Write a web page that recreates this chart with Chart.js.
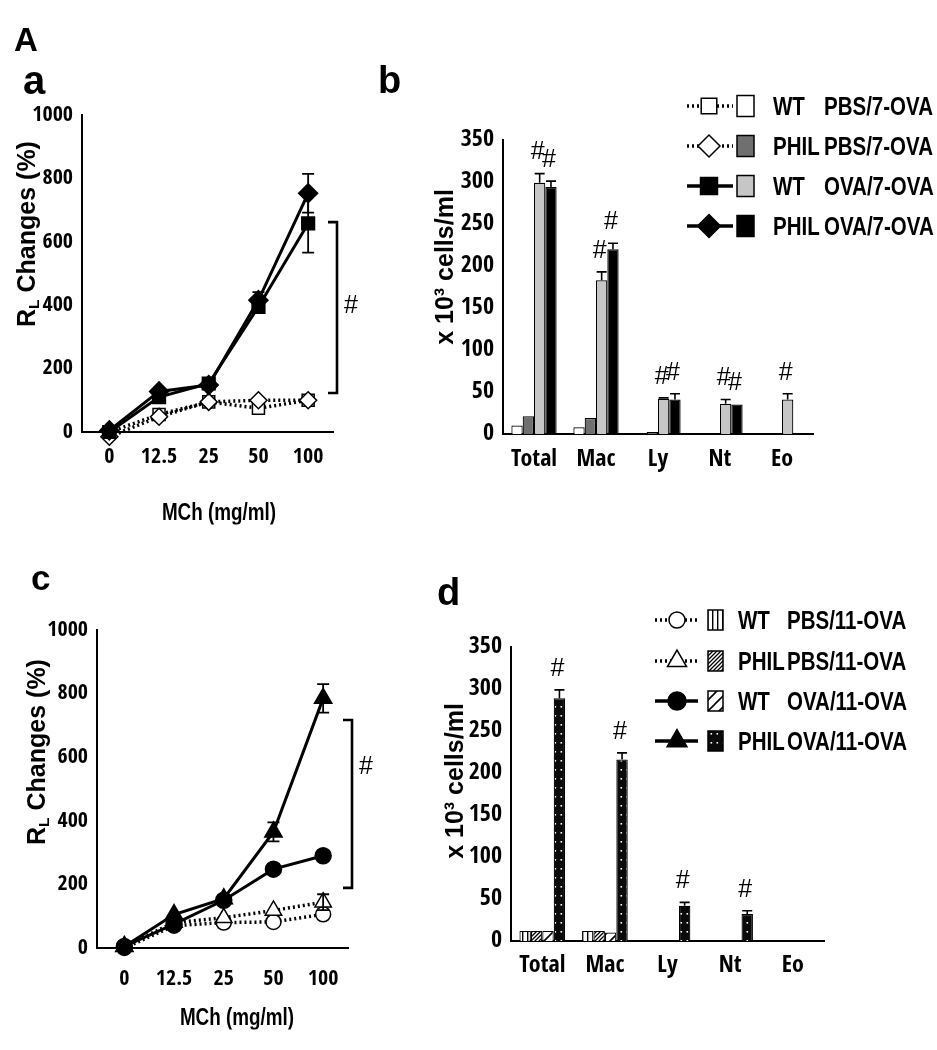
<!DOCTYPE html>
<html><head><meta charset="utf-8">
<script src="https://cdn.jsdelivr.net/npm/chart.js@4.4.1/dist/chart.umd.min.js"></script>
<style>
html,body{margin:0;padding:0;background:#fff;}
#wrap{position:relative;width:937px;height:1050px;overflow:hidden;background:#fff;}
canvas{position:absolute;left:0;top:0;}
.h{position:absolute;font-family:'Liberation Sans',Arial,sans-serif;font-weight:bold;color:#000;white-space:nowrap;line-height:1;transform-origin:0 0;transform:scaleX(0.82);}
.p{position:absolute;font-family:'Liberation Sans',Arial,sans-serif;font-weight:bold;color:#000;line-height:1;white-space:nowrap;}
.rot{transform:translate(-50%,-50%) rotate(-90deg);}
.ctr{transform-origin:50% 50%;transform:translate(-50%,-50%) scaleX(0.82);}
sub{font-size:62%;vertical-align:-0.28em;line-height:0;}
</style></head>
<body><div id="wrap">
<canvas id="ca" width="937" height="1050"></canvas>
<canvas id="cb" width="937" height="1050"></canvas>
<canvas id="cc" width="937" height="1050"></canvas>
<canvas id="cd" width="937" height="1050"></canvas>
<div id="txt"></div>
</div>
<script>
// ---------- DATA ----------
const doseLabels = ['0', '12.5', '25', '50', '100'];
// panel a (RL changes %, 7-OVA)
const aWtPbs = [0, 55, 95, 75, 100];
const aPhilPbs = [-15, 48, 95, 100, 100];
const aWtOva = [0, 110, 153, 395, 658];
const aWtOvaErr = [0, 0, 0, 20, 92];
const aPhilOva = [5, 128, 148, 416, 753];
const aPhilOvaErr = [0, 0, 0, 25, 61];
const aBracket = [123, 662];
const aMark = 397;
// panel c (RL changes %, 11-OVA)
const cWtPbs = [0, 70, 80, 82, 106];
const cPhilPbs = [5, 80, 95, 118, 144];
const cPhilPbsErr = [0, 0, 0, 0, 25];
const cWtOva = [5, 75, 150, 248, 290];
const cWtOvaErr = [0, 0, 0, 10, 15];
const cPhilOva = [5, 105, 155, 365, 785];
const cPhilOvaErr = [0, 0, 0, 30, 45];
const cBracket = [189, 717];
const cMark = 569;
// panel b (x10^3 cells/ml, 7-OVA)
const cellLabels = ['Total', 'Mac', 'Ly', 'Nt', 'Eo'];
const bWtPbs = [10, 8, 0, 0, 0];
const bPhilPbs = [21, 19, 2.5, 0, 0];
const bWtOva = [299, 183, 42, 36, 41];
const bWtOvaErr = [11, 10, 1, 5, 7];
const bWtOvaSig = [1, 1, 1, 1, 1];
const bPhilOva = [294, 220, 41, 35, 0];
const bPhilOvaErr = [7, 7, 7, 0, 0];
const bPhilOvaSig = [1, 1, 1, 1, 0];
// panel d (x10^3 cells/ml, 11-OVA)
const dWtPbs = [12, 12, 0, 0, 0];
const dPhilPbs = [12, 12, 0, 0, 0];
const dWtOva = [12, 10, 0, 0, 0];
const dPhilOva = [289, 216, 42, 32, 0];
const dPhilOvaErr = [10, 8, 4, 4, 0];
const dPhilOvaSig = [1, 1, 1, 1, 0];
// legends
const legendGroups = ['WT', 'PHIL', 'WT', 'PHIL'];
const legendB = ['PBS/7-OVA', 'PBS/7-OVA', 'OVA/7-OVA', 'OVA/7-OVA'];
const legendD = ['PBS/11-OVA', 'PBS/11-OVA', 'OVA/11-OVA', 'OVA/11-OVA'];

// ---------- STYLE ----------
const NARROW = "'Open Sans Condensed','Roboto Condensed','Liberation Sans',Arial,sans-serif";
Chart.defaults.font.family = NARROW;
Chart.defaults.font.weight = 'bold';
Chart.defaults.color = '#000';
Chart.defaults.animation = false;

const markA = [
  {ps: 'rect', r: 8.5, fill: '#fff', dot: true, lr: 11},
  {ps: 'rectRot', r: 8.5, fill: '#fff', dot: true, lr: 11},
  {ps: 'rect', r: 9, fill: '#000', dot: false, lr: 12},
  {ps: 'rectRot', r: 9.5, fill: '#000', dot: false, lr: 11.5}
];
const markC = [
  {ps: 'circle', r: 7.5, fill: '#fff', dot: true, lr: 8},
  {ps: 'triangle', r: 9.5, fill: '#fff', dot: true, lr: 11},
  {ps: 'circle', r: 8, fill: '#000', dot: false, lr: 9},
  {ps: 'triangle', r: 10, fill: '#000', dot: false, lr: 11.5}
];

const patCtx = document.getElementById('cd').getContext('2d');
function makePattern(kind) {
  const c = document.createElement('canvas');
  const g = c.getContext('2d');
  if (kind === 'vstripe') {
    c.width = 5; c.height = 5;
    g.fillStyle = '#fff'; g.fillRect(0, 0, 5, 5);
    g.fillStyle = '#000'; g.fillRect(2, 0, 1.4, 5);
  } else if (kind === 'hatch' || kind === 'diag') {
    const n = kind === 'hatch' ? 4 : 11;
    c.width = n; c.height = n;
    g.fillStyle = '#fff'; g.fillRect(0, 0, n, n);
    g.strokeStyle = '#000'; g.lineWidth = kind === 'hatch' ? 1.3 : 1.6;
    g.beginPath();
    g.moveTo(0, n); g.lineTo(n, 0);
    g.moveTo(-n, n); g.lineTo(n, -n);
    g.moveTo(0, 2 * n); g.lineTo(2 * n, 0);
    g.stroke();
  } else {
    c.width = 6; c.height = 9;
    g.fillStyle = '#0a0a0a'; g.fillRect(0, 0, 6, 9);
    g.fillStyle = '#fff'; g.fillRect(2.5, 4, 1.6, 1.6);
  }
  return patCtx.createPattern(c, 'repeat');
}
const fillsB = ['#ffffff', '#6f6f6f', '#c6c6c6', '#000000'];
const fillsD = [makePattern('vstripe'), makePattern('hatch'), makePattern('diag'), makePattern('dots')];

// ---------- PLUGINS ----------
function valOf(v) { return (v && typeof v === 'object') ? v.y : v; }
const errPlugin = {
  id: 'errbars',
  afterDatasetsDraw(chart) {
    const ctx = chart.ctx, ys = chart.scales.y;
    const isBar = chart.config.type === 'bar';
    ctx.save();
    ctx.strokeStyle = '#000'; ctx.fillStyle = '#000';
    chart.data.datasets.forEach((ds, di) => {
      const meta = chart.getDatasetMeta(di);
      meta.data.forEach((el, i) => {
        const v = valOf(ds.data[i]);
        const e = ds.errors ? ds.errors[i] : 0;
        let topY = ys.getPixelForValue(v + (e || 0));
        if (e) {
          const bot = isBar ? el.y : ys.getPixelForValue(v - e);
          const cw = isBar ? 10 : 12;
          ctx.lineWidth = isBar ? 1.6 : 1.8;
          ctx.beginPath();
          ctx.moveTo(el.x, bot); ctx.lineTo(el.x, topY);
          ctx.moveTo(el.x - cw / 2, topY); ctx.lineTo(el.x + cw / 2, topY);
          if (!isBar) { ctx.moveTo(el.x - cw / 2, bot); ctx.lineTo(el.x + cw / 2, bot); }
          ctx.stroke();
        }
        if (ds.sig && ds.sig[i]) {
          ctx.font = 'normal 25px "Liberation Sans", Arial, sans-serif';
          ctx.textAlign = 'center'; ctx.textBaseline = 'middle';
          ctx.fillText('#', el.x - 2, topY - 21);
        }
      });
    });
    ctx.restore();
  }
};
const bracketPlugin = {
  id: 'bracket',
  afterDraw(chart, args, o) {
    if (!o || o.low == null) return;
    const ctx = chart.ctx, ys = chart.scales.y;
    const x = chart.chartArea.right + o.dx;
    const y1 = ys.getPixelForValue(o.low), y2 = ys.getPixelForValue(o.high);
    ctx.save();
    ctx.strokeStyle = '#000'; ctx.lineWidth = 2.6;
    ctx.beginPath();
    ctx.moveTo(x - o.tick, y2); ctx.lineTo(x, y2); ctx.lineTo(x, y1); ctx.lineTo(x - o.tick, y1);
    ctx.stroke();
    ctx.fillStyle = '#000';
    ctx.font = 'normal 25px "Liberation Sans", Arial, sans-serif';
    ctx.textAlign = 'center'; ctx.textBaseline = 'middle';
    ctx.fillText('#', x + o.markDx, ys.getPixelForValue(o.mark));
    ctx.restore();
  }
};
const legendPlugin = {
  id: 'symlegend',
  afterDraw(chart, args, o) {
    if (!o || !o.marks) return;
    const ctx = chart.ctx;
    ctx.save();
    o.marks.forEach((m, i) => {
      const y = o.rows[i];
      ctx.strokeStyle = '#000';
      ctx.lineWidth = 3.5;
      ctx.setLineDash(m.dot ? [2, 3] : []);
      ctx.beginPath(); ctx.moveTo(o.x0, y); ctx.lineTo(o.x1, y); ctx.stroke();
      ctx.setLineDash([]);
      ctx.fillStyle = m.fill; ctx.lineWidth = 1.5;
      Chart.helpers.drawPoint(ctx, {pointStyle: m.ps, radius: m.lr, borderWidth: 1.5, rotation: 0}, o.xm, y);
      ctx.fillStyle = o.fills[i];
      ctx.fillRect(o.xs, y - o.sh / 2, o.sw, o.sh);
      ctx.lineWidth = 1.5; ctx.strokeStyle = '#000';
      ctx.strokeRect(o.xs, y - o.sh / 2, o.sw, o.sh);
    });
    ctx.restore();
  }
};

// ---------- CHART BUILDERS ----------
const YW = 70, XH = 50;
function lineDs(vals, errs, m, order) {
  return {
    data: vals.map((y, i) => ({x: i, y: y})),
    errors: errs,
    borderColor: '#000',
    borderWidth: m.dot ? 3.5 : 3,
    borderDash: m.dot ? [2, 3] : [],
    pointStyle: m.ps, pointRadius: m.r,
    pointBackgroundColor: m.fill, pointBorderColor: '#000', pointBorderWidth: 1.5,
    clip: false, order: order, tension: 0
  };
}
function lineChart(id, sets, box, br, mark, xPad) {
  return new Chart(document.getElementById(id), {
    type: 'line',
    data: {datasets: sets},
    options: {
      responsive: false, animation: false,
      layout: {padding: {left: box.L - YW, right: 937 - box.R, top: box.T, bottom: 1050 - box.B - XH}},
      plugins: {legend: {display: false}, tooltip: {enabled: false},
        bracket: {low: br[0], high: br[1], mark: mark, dx: 4, tick: 9, markDx: 14}},
      scales: {
        x: {type: 'linear', min: -0.55, max: 4.5,
          grid: {display: false, drawTicks: false}, border: {display: true, color: '#000', width: 2},
          afterBuildTicks: s => { s.ticks = doseLabels.map((_, i) => ({value: i})); },
          afterFit: s => { s.height = XH; },
          ticks: {callback: v => doseLabels[v], padding: xPad, font: {size: 22}, maxRotation: 0, autoSkip: false}},
        y: {min: 0, max: 1000,
          grid: {display: false, drawTicks: false}, border: {display: true, color: '#000', width: 2},
          afterFit: s => { s.width = YW; },
          ticks: {stepSize: 200, padding: 9, font: {size: 22}, callback: v => String(v)}}
      }
    },
    plugins: [errPlugin, bracketPlugin]
  });
}
function barChart(id, sets, box, legendOpts, xPad) {
  return new Chart(document.getElementById(id), {
    type: 'bar',
    data: {labels: cellLabels, datasets: sets},
    options: {
      responsive: false, animation: false,
      layout: {padding: {left: box.L - YW, right: 937 - box.R, top: box.T, bottom: 1050 - box.B - XH}},
      datasets: {bar: {categoryPercentage: 0.73, barPercentage: 1.0, borderColor: '#000', borderWidth: 1.2, borderSkipped: 'start'}},
      plugins: {legend: {display: false}, tooltip: {enabled: false}, symlegend: legendOpts},
      scales: {
        x: {grid: {display: false, drawTicks: false}, border: {display: true, color: '#000', width: 2},
          afterFit: s => { s.height = XH; },
          ticks: {padding: xPad, font: {size: 24}, maxRotation: 0, autoSkip: false}},
        y: {min: 0, max: 350,
          grid: {display: false, drawTicks: false}, border: {display: true, color: '#000', width: 2},
          afterFit: s => { s.width = YW; },
          ticks: {stepSize: 50, padding: 9, font: {size: 24}, callback: v => String(v)}}
      }
    },
    plugins: [errPlugin, legendPlugin]
  });
}

// ---------- PANELS ----------
lineChart('ca', [
  lineDs(aWtPbs, null, markA[0], 4),
  lineDs(aPhilPbs, null, markA[1], 3),
  lineDs(aWtOva, aWtOvaErr, markA[2], 2),
  lineDs(aPhilOva, aPhilOvaErr, markA[3], 1)
], {L: 82, R: 333, T: 115, B: 432}, aBracket, aMark, 12);

lineChart('cc', [
  lineDs(cWtPbs, null, markC[0], 4),
  lineDs(cPhilPbs, cPhilPbsErr, markC[1], 3),
  lineDs(cWtOva, cWtOvaErr, markC[2], 2),
  lineDs(cPhilOva, cPhilOvaErr, markC[3], 1)
], {L: 97, R: 348, T: 630, B: 948}, cBracket, cMark, 18);

barChart('cb', [
  {data: bWtPbs, backgroundColor: fillsB[0]},
  {data: bPhilPbs, backgroundColor: fillsB[1]},
  {data: bWtOva, backgroundColor: fillsB[2], errors: bWtOvaErr, sig: bWtOvaSig},
  {data: bPhilOva, backgroundColor: fillsB[3], errors: bPhilOvaErr, sig: bPhilOvaSig}
], {L: 503, R: 813, T: 140, B: 434},
  {marks: markA, fills: fillsB, rows: [106, 146, 186, 226], x0: 687, x1: 733, xm: 709, xs: 737, sw: 17, sh: 21}, 11);

barChart('cd', [
  {data: dWtPbs, backgroundColor: fillsD[0]},
  {data: dPhilPbs, backgroundColor: fillsD[1]},
  {data: dWtOva, backgroundColor: fillsD[2]},
  {data: dPhilOva, backgroundColor: fillsD[3], errors: dPhilOvaErr, sig: dPhilOvaSig}
], {L: 511, R: 824, T: 647, B: 941},
  {marks: markC, fills: fillsD, rows: [620, 661, 701, 741], x0: 655, x1: 698, xm: 677, xs: 708, sw: 15, sh: 20}, 10);

// ---------- HTML TEXT ----------
const txt = document.getElementById('txt');
function addText(html, cls, left, top, size, extra) {
  const d = document.createElement('div');
  d.className = cls;
  d.style.left = left + 'px'; d.style.top = top + 'px'; d.style.fontSize = size + 'px';
  if (extra) d.style.cssText += extra;
  d.innerHTML = html;
  txt.appendChild(d);
}
// panel letters
addText('A', 'p', 14, 23, 33);
addText('a', 'p', 23, 60, 40);
addText('b', 'p', 378, 61, 38);
addText('c', 'p', 31, 560, 35);
addText('d', 'p', 437, 573, 38);
// axis titles
addText('R<sub>L</sub> Changes (%)', 'p rot', 26, 234, 25);
addText('R<sub>L</sub> Changes (%)', 'p rot', 36, 752, 25);
addText('MCh (mg/ml)', 'h ctr', 219, 512, 23);
addText('MCh (mg/ml)', 'h ctr', 237, 1017, 23);
addText('x 10³ cells/ml', 'p rot', 444, 267, 25);
addText('x 10³ cells/ml', 'p rot', 454, 781, 25);
// legend text
[106, 146, 186, 226].forEach((y, i) => {
  addText(legendGroups[i], 'h', 773, y - 12.2, 25);
  addText(legendB[i], 'h', 824, y - 12.2, 25);
});
[620, 661, 701, 741].forEach((y, i) => {
  addText(legendGroups[i], 'h', 738, y - 12.2, 25);
  addText(legendD[i], 'h', 787, y - 12.2, 25);
});
</script>
</body></html>
